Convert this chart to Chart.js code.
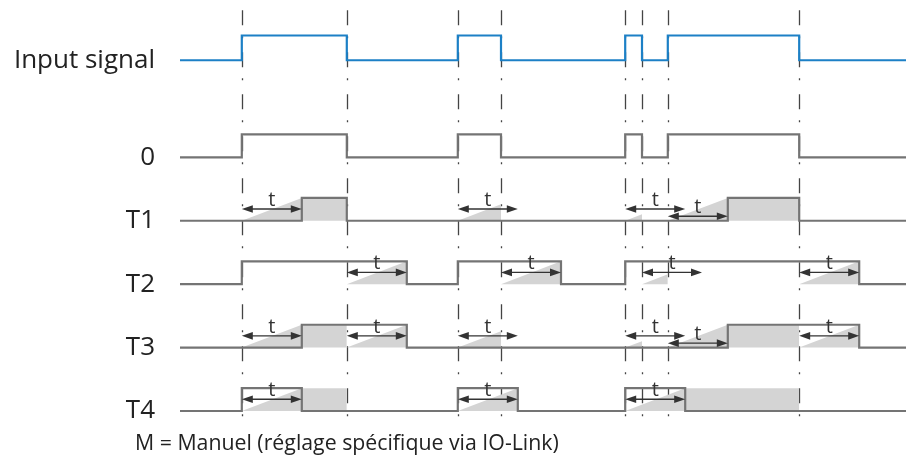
<!DOCTYPE html>
<html><head><meta charset="utf-8">
<script src="https://cdn.jsdelivr.net/npm/chart.js@4/dist/chart.umd.min.js"></script>
<style>html,body{margin:0;padding:0;background:#fff}#wrap{width:907px;height:466px;position:relative}</style>
</head><body><div id="wrap"><canvas id="c"></canvas></div>
<script>
// ---- data (time in units of the delay t) ----
const rowLabels = ['Input signal', '0', 'T1', 'T2', 'T3', 'T4'];
const rowLevels = [5.53, 4, 3, 2, 1, 0];
const edgeTimes = [1.03, 2.78, 4.63, 5.35, 7.42, 7.70, 8.13, 10.32];
const delayT = 1;
const timeEnd = 12.1;

const inputHigh = [[1.03, 2.78], [4.63, 5.35], [7.42, 7.70], [8.13, 10.32]];
const out0High  = [[1.03, 2.78], [4.63, 5.35], [7.42, 7.70], [8.13, 10.32]];
const t1High = [[2.03, 2.78], [9.13, 10.32]];
const t2High = [[1.03, 3.78], [4.63, 6.35], [7.42, 11.32]];
const t3High = [[2.03, 3.78], [9.13, 11.32]];
const t4High = [[1.03, 2.03], [4.63, 5.63], [7.42, 8.42]];

// shaded ramps [start, end] and shaded holds [start, end]
const t1Ramps = [[1.03, 2.03], [4.63, 5.35], [7.42, 7.70], [8.13, 9.13]];
const t1Holds = [[2.03, 2.78], [9.13, 10.32]];
const t2Ramps = [[2.78, 3.78], [5.35, 6.35], [7.70, 8.13], [10.32, 11.32]];
const t2Holds = [];
const t3Ramps = [[1.03, 2.03], [2.78, 3.78], [4.63, 5.35], [7.42, 7.70], [8.13, 9.13], [10.32, 11.32]];
const t3Holds = [[2.03, 2.78], [9.13, 10.32]];
const t4Ramps = [[1.03, 2.03], [4.63, 5.63], [7.42, 8.42]];
const t4Holds = [[2.03, 2.78], [8.42, 10.32]];

// timer arrows [start, raised?]
const t1Arrows = [[1.03, 1], [4.63, 1], [7.42, 1], [8.13, 0]];
const t2Arrows = [[2.78, 1], [5.35, 1], [7.70, 1], [10.32, 1]];
const t3Arrows = [[1.03, 1], [2.78, 1], [4.63, 1], [7.42, 1], [8.13, 0], [10.32, 1]];
const t4Arrows = [[1.03, 1], [4.63, 1], [7.42, 1]];

const footerText = 'M = Manuel (réglage spécifique via IO-Link)';

// ---- styles ----
const BLUE = '#1c80c6', GRAY = '#747474', SHADE = '#d4d4d4', DARK = '#333333';
const HI_IN = 0.39, HI = 0.36;

function stepPoints(highs, lo, h) {
  const pts = [{x: 0, y: lo}];
  highs.forEach(([s, e]) => { pts.push({x: s, y: lo}, {x: s, y: lo + h}, {x: e, y: lo + h}, {x: e, y: lo}); });
  pts.push({x: timeEnd, y: lo});
  return pts;
}
const datasets = [];
function addShades(ramps, holds, lo) {
  ramps.forEach(([s, e]) => datasets.push({
    data: [{x: s, y: lo}, {x: e, y: lo + HI * (e - s) / delayT}],
    borderWidth: 0, pointRadius: 0, backgroundColor: SHADE, fill: {value: lo}, order: 5
  }));
  holds.forEach(([s, e]) => datasets.push({
    data: [{x: s, y: lo + HI}, {x: e, y: lo + HI}],
    borderWidth: 0, pointRadius: 0, backgroundColor: SHADE, fill: {value: lo}, order: 5
  }));
}
addShades(t1Ramps, t1Holds, rowLevels[2]);
addShades(t2Ramps, t2Holds, rowLevels[3]);
addShades(t3Ramps, t3Holds, rowLevels[4]);
addShades(t4Ramps, t4Holds, rowLevels[5]);

const sig = [[inputHigh, HI_IN, BLUE], [out0High, HI, GRAY], [t1High, HI, GRAY], [t2High, HI, GRAY], [t3High, HI, GRAY], [t4High, HI, GRAY]];
sig.forEach(([hs, h, col], i) => datasets.push({
  data: stepPoints(hs, rowLevels[i], h), borderColor: col, borderWidth: 2.2,
  pointRadius: 0, fill: false, order: 1, borderJoinStyle: 'miter'
}));

const arrowRows = [[t1Arrows, rowLevels[2]], [t2Arrows, rowLevels[3]], [t3Arrows, rowLevels[4]], [t4Arrows, rowLevels[5]]];

const guidePlugin = {
  id: 'guides',
  beforeDatasetsDraw(chart) {
    const {ctx, scales: {x, y}} = chart;
    ctx.save();
    ctx.strokeStyle = '#444';
    ctx.lineWidth = 1.3;
    ctx.setLineDash([15, 11, 2, 14]);
    const top = y.getPixelForValue(6.32), bot = y.getPixelForValue(-0.22);
    edgeTimes.forEach(t => {
      const px = Math.round(x.getPixelForValue(t)) + 0.5;
      ctx.beginPath(); ctx.moveTo(px, top); ctx.lineTo(px, bot); ctx.stroke();
    });
    ctx.restore();
  },
  afterDatasetsDraw(chart) {
    const {ctx, scales: {x, y}} = chart;
    ctx.save();
    ctx.strokeStyle = DARK; ctx.fillStyle = DARK; ctx.lineWidth = 1.4;
    ctx.font = '20px "Open Sans"'; ctx.textAlign = 'center'; ctx.textBaseline = 'alphabetic';
    arrowRows.forEach(([arr, lo]) => {
      arr.forEach(([s, raised]) => {
        const x1 = x.getPixelForValue(s), x2 = x.getPixelForValue(s + delayT);
        const py = y.getPixelForValue(lo + (raised ? 0.185 : 0.07));
        ctx.beginPath(); ctx.moveTo(x1 + 4, py); ctx.lineTo(x2 - 4, py); ctx.stroke();
        ctx.beginPath(); ctx.moveTo(x1, py); ctx.lineTo(x1 + 11, py - 3.8); ctx.lineTo(x1 + 11, py + 3.8); ctx.closePath(); ctx.fill();
        ctx.beginPath(); ctx.moveTo(x2, py); ctx.lineTo(x2 - 11, py - 3.8); ctx.lineTo(x2 - 11, py + 3.8); ctx.closePath(); ctx.fill();
        ctx.fillText('t', (x1 + x2) / 2, py - 3);
      });
    });
    ctx.textAlign = 'left'; ctx.fillStyle = '#222';
    ctx.font = '21.3px "Open Sans"';
    ctx.fillText(footerText, 135, y.getPixelForValue(-0.62));
    ctx.restore();
  }
};

new Chart(document.getElementById('c'), {
  type: 'line',
  data: {datasets},
  plugins: [guidePlugin],
  options: {
    responsive: true, maintainAspectRatio: false, animation: false,
    layout: {padding: {left: 0, right: 1, top: 0, bottom: 0}, autoPadding: false},
    plugins: {legend: {display: false}, tooltip: {enabled: false}, title: {display: false}},
    elements: {line: {tension: 0}},
    scales: {
      x: {type: 'linear', min: 0, max: timeEnd, display: false},
      y: {
        type: 'linear', min: -0.867, max: 6.48,
        grid: {display: false, drawTicks: false}, border: {display: false},
        afterFit(s) { s.width = 180; s.paddingTop = 0; s.paddingBottom = 0; },
        afterBuildTicks(s) { s.ticks = rowLevels.map(v => ({value: v})); },
        ticks: {
          autoSkip: false, padding: 25, color: '#222',
          font: {family: 'Open Sans', size: 26},
          callback(v) { const i = rowLevels.indexOf(v); return i >= 0 ? rowLabels[i] : ''; }
        }
      }
    }
  }
});
</script></body></html>
